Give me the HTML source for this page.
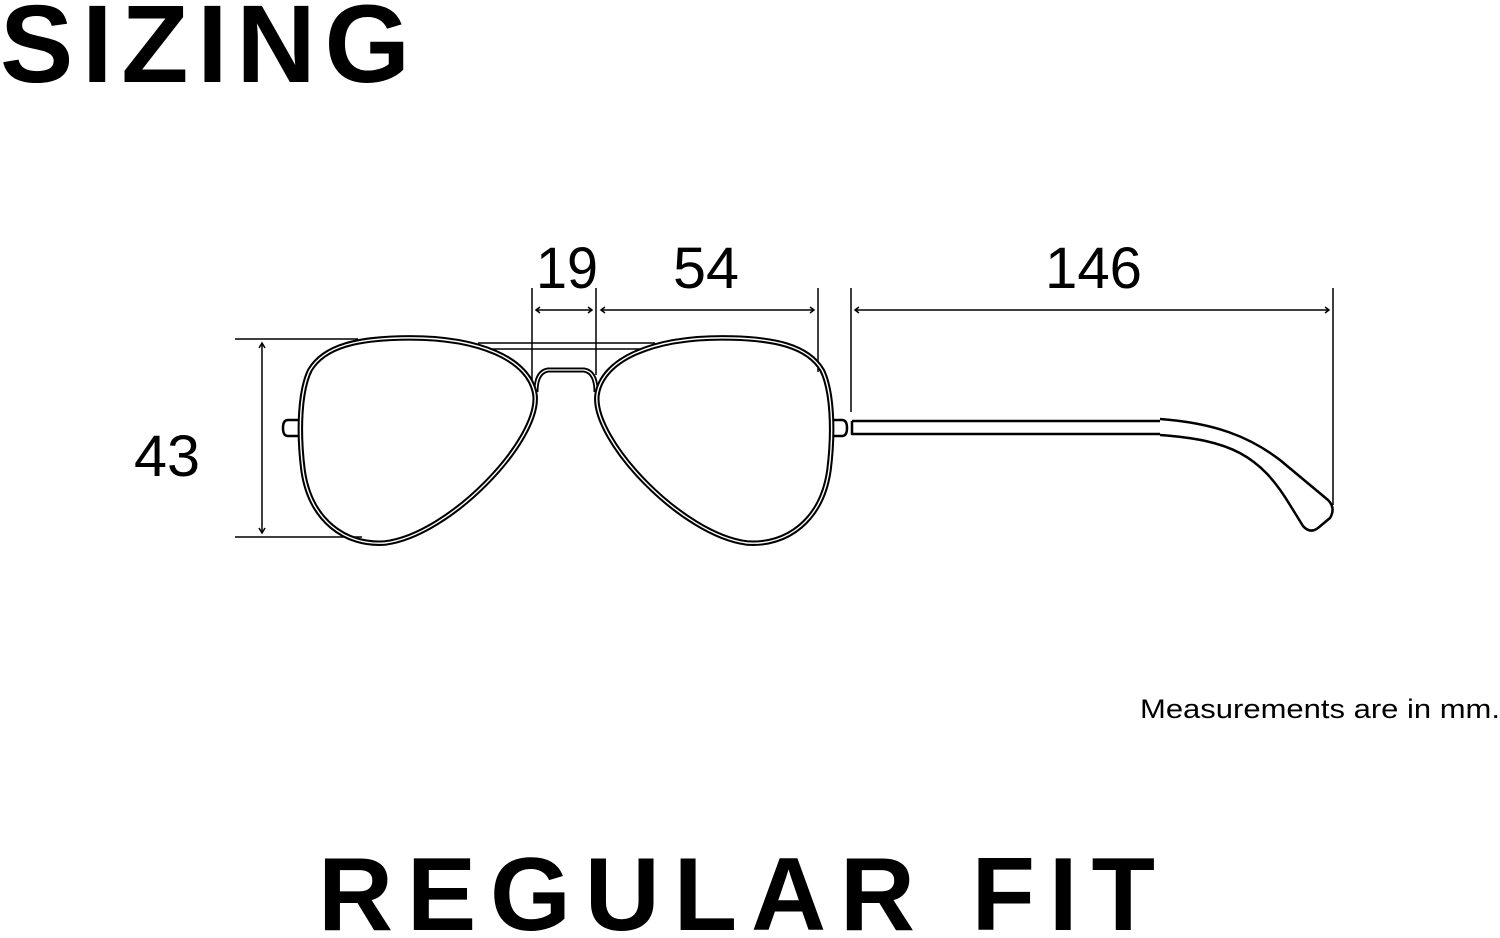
<!DOCTYPE html>
<html><head><meta charset="utf-8"><style>
html,body{margin:0;padding:0;background:#fff;}
svg{display:block;}
text{font-family:"Liberation Sans",Arial,sans-serif;fill:#000;}
</style></head><body>
<svg width="1500" height="938" viewBox="0 0 1500 938" xmlns="http://www.w3.org/2000/svg">
<text x="0" y="82" font-size="110" font-weight="bold" textLength="410" lengthAdjust="spacing">SIZING</text>
<text x="318" y="930" font-size="104" font-weight="bold" textLength="837" lengthAdjust="spacing">REGULAR FIT</text>
<text x="1140" y="718" font-size="27" textLength="360" lengthAdjust="spacingAndGlyphs">Measurements are in mm.</text>

<g font-size="58">
<text x="134" y="476" textLength="66" lengthAdjust="spacingAndGlyphs">43</text>
<text x="536" y="288" textLength="62" lengthAdjust="spacingAndGlyphs">19</text>
<text x="673" y="288" textLength="66" lengthAdjust="spacingAndGlyphs">54</text>
<text x="1045" y="288" textLength="97" lengthAdjust="spacingAndGlyphs">146</text>
</g>

<g stroke="#000" stroke-width="1.5" fill="none">
<!-- 43 dimension -->
<line x1="235" y1="339" x2="358" y2="339"/>
<line x1="235" y1="537" x2="362" y2="537"/>
<line x1="262" y1="343" x2="262" y2="533"/>
<path d="M259 348 L262 343 L265 348 M259 528 L262 533 L265 528"/>
<!-- 19 -->
<line x1="532" y1="288" x2="532" y2="380"/>
<line x1="596" y1="288" x2="596" y2="375"/>
<line x1="536" y1="310" x2="592" y2="310"/>
<path d="M540 307 L536 310 L540 313 M588 307 L592 310 L588 313"/>
<!-- 54 -->
<line x1="818" y1="288" x2="818" y2="372"/>
<line x1="601" y1="310" x2="814" y2="310"/>
<path d="M605 307 L601 310 L605 313 M810 307 L814 310 L810 313"/>
<!-- 146 -->
<line x1="851" y1="288" x2="851" y2="412"/>
<line x1="1333" y1="288" x2="1333" y2="505"/>
<line x1="855" y1="310" x2="1329" y2="310"/>
<path d="M859 307 L855 310 L859 313 M1325 307 L1329 310 L1325 313"/>
</g>

<!-- top bar -->
<g stroke="#000" stroke-width="1.5" fill="none">
<line x1="478" y1="343" x2="655" y2="343"/>
<line x1="490" y1="349" x2="642" y2="349"/>
</g>

<!-- tabs -->
<g stroke="#000" stroke-width="2.5" fill="#fff">
<path d="M302 420 L288 420 Q283 420 283 428 Q283 436 288 436 L302 436"/>
<path d="M830 420 L842 420 Q847 420 847 428 Q847 436 842 436 L830 436"/>
</g>

<!-- bridge -->
<path d="M536 392 Q536 372 548 370 L584 370 Q596 372 596 392" stroke="#000" stroke-width="5" fill="none"/>
<path d="M536 392 Q536 372 548 370 L584 370 Q596 372 596 392" stroke="#fff" stroke-width="1.3" fill="none"/>

<!-- lenses -->
<g fill="none">
<path id="L" d="M400 338 C480 336 530 360 535 395 C540 440 450 535 385 543 C345 546 310 520 303 470 C298 430 300 390 310 370 C325 345 360 339 400 338 Z" stroke="#000" stroke-width="5.5"/>
<path d="M400 338 C480 336 530 360 535 395 C540 440 450 535 385 543 C345 546 310 520 303 470 C298 430 300 390 310 370 C325 345 360 339 400 338 Z" stroke="#fff" stroke-width="1.4"/>
<g transform="translate(1132,0) scale(-1,1)">
<path d="M400 338 C480 336 530 360 535 395 C540 440 450 535 385 543 C345 546 310 520 303 470 C298 430 300 390 310 370 C325 345 360 339 400 338 Z" stroke="#000" stroke-width="5.5"/>
<path d="M400 338 C480 336 530 360 535 395 C540 440 450 535 385 543 C345 546 310 520 303 470 C298 430 300 390 310 370 C325 345 360 339 400 338 Z" stroke="#fff" stroke-width="1.4"/>
</g>
</g>

<!-- temple -->
<g stroke="#000" stroke-width="2.5" fill="none" stroke-linejoin="round">
<path d="M852 421 L1160 421 M852 421 L852 434 L1160 434"/>
<path d="M1160 419 C1215 423 1250 437 1280 460 L1328 500 Q1336 508 1330 518 L1318 528 Q1310 534 1303 526 L1290 505 C1260 455 1230 440 1160 435"/>
</g>
</svg>
</body></html>
